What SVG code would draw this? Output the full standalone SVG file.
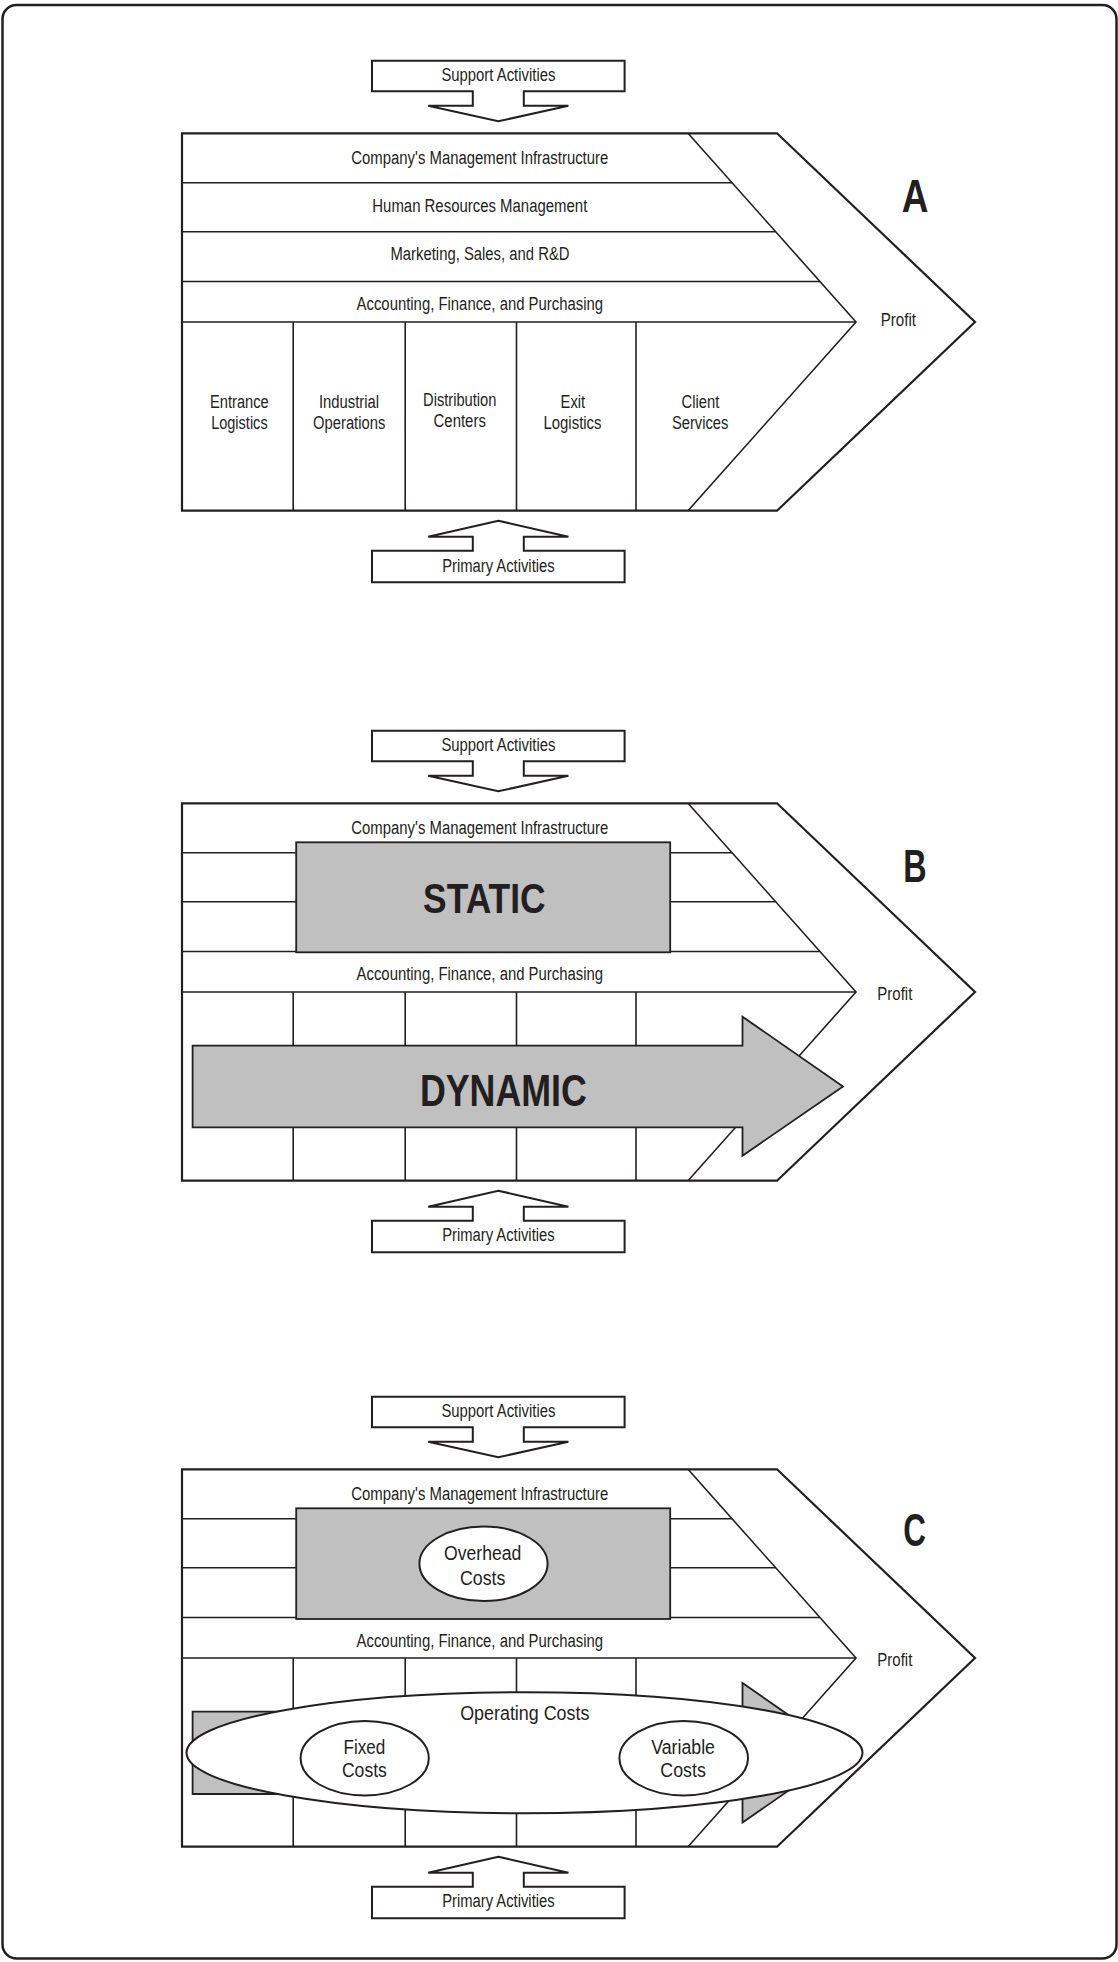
<svg xmlns="http://www.w3.org/2000/svg" width="1118" height="1962" viewBox="0 0 1118 1962">
  <style>
    .frame { fill: none; stroke: #231f20; stroke-width: 2.5; }
    .outline { fill: #ffffff; stroke: #231f20; stroke-width: 2.2; stroke-linejoin: miter; }
    .line { fill: none; stroke: #231f20; stroke-width: 1.6; }
    .block { fill: #ffffff; stroke: #231f20; stroke-width: 2; stroke-linejoin: miter; }
    .shade { fill: #c0c0c0; stroke: #231f20; stroke-width: 1.8; }
    .oval { fill: #ffffff; stroke: #231f20; stroke-width: 2; }
    text { font-family: "Liberation Sans Narrow", "Liberation Sans", Arial, sans-serif; fill: #231f20; text-anchor: middle; }
    .lbl { font-size: 18px; }
    .cost { font-size: 20px; }
    .tag { font-size: 46px; font-weight: bold; }
    .big { font-weight: bold; }
  </style>

  <!-- page border -->
  <rect class="frame" x="2.5" y="5" width="1114" height="1953.5" rx="14" ry="14"/>

  <!-- ===================== Value chain A ===================== -->
  <g id="panel-a">
    <g id="a-chain">
      <path class="outline" d="M182,133.3 H777 L975,322 L777,510.7 H182 Z"/>
      <path class="line" d="M688,133.3 L856,322 L688,510.7"/>
      <path class="line" d="M182,182.7 H732 M182,231.7 H775.6 M182,281.5 H819.9 M182,322 H856"/>
      <path class="line" d="M293.2,322 V510.7 M405.2,322 V510.7 M516.5,322 V510.7 M636,322 V510.7"/>
    </g>
    <g id="a-infrastructure"><text class="lbl" x="479.8" y="164" textLength="257" lengthAdjust="spacingAndGlyphs">Company's Management Infrastructure</text></g>
    <g id="a-hr"><text class="lbl" x="479.8" y="211.5" textLength="215" lengthAdjust="spacingAndGlyphs">Human Resources Management</text></g>
    <g id="a-marketing"><text class="lbl" x="480" y="260" textLength="179" lengthAdjust="spacingAndGlyphs">Marketing, Sales, and R&amp;D</text></g>
    <g id="a-accounting"><text class="lbl" x="479.8" y="310" textLength="246.5" lengthAdjust="spacingAndGlyphs">Accounting, Finance, and Purchasing</text></g>
    <g id="a-entrance">
      <text class="lbl" x="239.4" y="408.3" textLength="58.6" lengthAdjust="spacingAndGlyphs">Entrance</text>
      <text class="lbl" x="239.4" y="429" textLength="56.5" lengthAdjust="spacingAndGlyphs">Logistics</text>
    </g>
    <g id="a-industrial">
      <text class="lbl" x="349" y="408.3" textLength="60.2" lengthAdjust="spacingAndGlyphs">Industrial</text>
      <text class="lbl" x="349.2" y="429" textLength="72.2" lengthAdjust="spacingAndGlyphs">Operations</text>
    </g>
    <g id="a-distribution">
      <text class="lbl" x="459.7" y="406" textLength="73.3" lengthAdjust="spacingAndGlyphs">Distribution</text>
      <text class="lbl" x="459.7" y="427.3" textLength="52.3" lengthAdjust="spacingAndGlyphs">Centers</text>
    </g>
    <g id="a-exit">
      <text class="lbl" x="572.9" y="408.3" textLength="24.6" lengthAdjust="spacingAndGlyphs">Exit</text>
      <text class="lbl" x="572.5" y="429" textLength="58.1" lengthAdjust="spacingAndGlyphs">Logistics</text>
    </g>
    <g id="a-client">
      <text class="lbl" x="700.4" y="408.3" textLength="37.7" lengthAdjust="spacingAndGlyphs">Client</text>
      <text class="lbl" x="700.2" y="429" textLength="56.5" lengthAdjust="spacingAndGlyphs">Services</text>
    </g>
    <g id="a-profit"><text class="lbl" x="898.3" y="325.7" textLength="35.3" lengthAdjust="spacingAndGlyphs">Profit</text></g>
    <g id="a-tag"><text class="tag" x="915" y="211.7" textLength="26.7" lengthAdjust="spacingAndGlyphs">A</text></g>
  </g>

  <!-- ===================== Value chain B ===================== -->
  <g id="panel-b" transform="translate(0,670)">
    <g id="b-chain">
      <path class="outline" d="M182,133.3 H777 L975,322 L777,510.7 H182 Z"/>
      <path class="line" d="M688,133.3 L856,322 L688,510.7"/>
      <path class="line" d="M182,182.7 H732 M182,231.7 H775.6 M182,281.5 H819.9 M182,322 H856"/>
      <path class="line" d="M293.2,322 V510.7 M405.2,322 V510.7 M516.5,322 V510.7 M636,322 V510.7"/>
    </g>
    <g id="b-infrastructure"><text class="lbl" x="479.8" y="163.5" textLength="257" lengthAdjust="spacingAndGlyphs">Company's Management Infrastructure</text></g>
    <g id="b-accounting"><text class="lbl" x="479.8" y="309.5" textLength="246.5" lengthAdjust="spacingAndGlyphs">Accounting, Finance, and Purchasing</text></g>
    <g id="b-static">
      <rect class="shade" x="296.2" y="172.3" width="374" height="110"/>
      <text class="big" x="484.3" y="243.3" font-size="42" textLength="122.5" lengthAdjust="spacingAndGlyphs">STATIC</text>
    </g>
    <g id="b-dynamic">
      <polygon class="shade" points="192.6,375.7 742.5,375.7 742.5,346.7 843,416.5 742.5,485.7 742.5,457.3 192.6,457.3"/>
      <text class="big" x="503.4" y="436" font-size="44" textLength="167" lengthAdjust="spacingAndGlyphs">DYNAMIC</text>
    </g>
    <g id="b-profit"><text class="lbl" x="894.8" y="330" textLength="35" lengthAdjust="spacingAndGlyphs">Profit</text></g>
    <g id="b-tag"><text class="tag" x="915" y="211.7" textLength="23.4" lengthAdjust="spacingAndGlyphs">B</text></g>
  </g>

  <!-- ===================== Value chain C ===================== -->
  <g id="panel-c" transform="translate(0,1336)">
    <g id="c-chain">
      <path class="outline" d="M182,133.3 H777 L975,322 L777,510.7 H182 Z"/>
      <path class="line" d="M688,133.3 L856,322 L688,510.7"/>
      <path class="line" d="M182,182.7 H732 M182,231.7 H775.6 M182,281.5 H819.9 M182,322 H856"/>
      <path class="line" d="M293.2,322 V510.7 M405.2,322 V510.7 M516.5,322 V510.7 M636,322 V510.7"/>
    </g>
    <g id="c-infrastructure"><text class="lbl" x="479.8" y="164" textLength="257" lengthAdjust="spacingAndGlyphs">Company's Management Infrastructure</text></g>
    <g id="c-accounting"><text class="lbl" x="479.8" y="310.5" textLength="246.5" lengthAdjust="spacingAndGlyphs">Accounting, Finance, and Purchasing</text></g>
    <g id="c-overhead">
      <rect class="shade" x="296.2" y="172.3" width="374" height="110.7"/>
      <ellipse class="oval" cx="483.5" cy="227.8" rx="64.1" ry="37.2"/>
      <text class="cost" x="482.7" y="224" textLength="77.4" lengthAdjust="spacingAndGlyphs">Overhead</text>
      <text class="cost" x="482.7" y="249" textLength="45.5" lengthAdjust="spacingAndGlyphs">Costs</text>
    </g>
    <g id="c-flow">
      <polygon class="shade" points="192.6,375.7 742.5,375.7 742.5,347 843,416.8 742.5,486.5 742.5,458 192.6,458"/>
    </g>
    <g id="c-operating">
      <ellipse class="oval" cx="524.5" cy="416.8" rx="338" ry="60.5"/>
      <text class="cost" x="524.8" y="384" textLength="129.3" lengthAdjust="spacingAndGlyphs">Operating Costs</text>
    </g>
    <g id="c-fixed">
      <ellipse class="oval" cx="364.7" cy="422.2" rx="64.1" ry="37.2"/>
      <text class="cost" x="364.4" y="418" textLength="41.8" lengthAdjust="spacingAndGlyphs">Fixed</text>
      <text class="cost" x="364.4" y="440.7" textLength="45" lengthAdjust="spacingAndGlyphs">Costs</text>
    </g>
    <g id="c-variable">
      <ellipse class="oval" cx="683.7" cy="422.2" rx="64.3" ry="37.2"/>
      <text class="cost" x="683.1" y="418" textLength="63.8" lengthAdjust="spacingAndGlyphs">Variable</text>
      <text class="cost" x="683.1" y="440.7" textLength="45.5" lengthAdjust="spacingAndGlyphs">Costs</text>
    </g>
    <g id="c-profit"><text class="lbl" x="894.8" y="329.7" textLength="35" lengthAdjust="spacingAndGlyphs">Profit</text></g>
    <g id="c-tag"><text class="tag" x="914.7" y="209.8" textLength="22.7" lengthAdjust="spacingAndGlyphs">C</text></g>
  </g>

  <!-- block arrows feeding each chain: support from above, primary from below -->
  <g id="connectors">
    <g id="a-support">
      <polygon class="block" points="372,60.7 624.6,60.7 624.6,91.3 523.8,91.3 523.8,105.7 568.4,105.7 498.3,121.3 428.2,105.7 472.8,105.7 472.8,91.3 372,91.3"/>
      <text class="lbl" x="498.4" y="80.7" textLength="114" lengthAdjust="spacingAndGlyphs">Support Activities</text>
    </g>
    <g id="a-primary">
      <polygon class="block" points="498.3,520.7 568.4,536.7 523.8,536.7 523.8,550.7 624.6,550.7 624.6,582.3 372,582.3 372,550.7 472.8,550.7 472.8,536.7 428.2,536.7"/>
      <text class="lbl" x="498.4" y="572.2" textLength="112.5" lengthAdjust="spacingAndGlyphs">Primary Activities</text>
    </g>
    <g id="b-support" transform="translate(0,670)">
      <polygon class="block" points="372,60.7 624.6,60.7 624.6,91.3 523.8,91.3 523.8,105.7 568.4,105.7 498.3,121.3 428.2,105.7 472.8,105.7 472.8,91.3 372,91.3"/>
      <text class="lbl" x="498.4" y="80.7" textLength="114" lengthAdjust="spacingAndGlyphs">Support Activities</text>
    </g>
    <g id="b-primary" transform="translate(0,670)">
      <polygon class="block" points="498.3,520.7 568.4,536.7 523.8,536.7 523.8,550.7 624.6,550.7 624.6,582.3 372,582.3 372,550.7 472.8,550.7 472.8,536.7 428.2,536.7"/>
      <text class="lbl" x="498.4" y="571" textLength="112.5" lengthAdjust="spacingAndGlyphs">Primary Activities</text>
    </g>
    <g id="c-support" transform="translate(0,1336)">
      <polygon class="block" points="372,60.7 624.6,60.7 624.6,91.3 523.8,91.3 523.8,105.7 568.4,105.7 498.3,121.3 428.2,105.7 472.8,105.7 472.8,91.3 372,91.3"/>
      <text class="lbl" x="498.4" y="80.7" textLength="114" lengthAdjust="spacingAndGlyphs">Support Activities</text>
    </g>
    <g id="c-primary" transform="translate(0,1336)">
      <polygon class="block" points="498.3,520.7 568.4,536.7 523.8,536.7 523.8,550.7 624.6,550.7 624.6,582.3 372,582.3 372,550.7 472.8,550.7 472.8,536.7 428.2,536.7"/>
      <text class="lbl" x="498.4" y="571" textLength="112.5" lengthAdjust="spacingAndGlyphs">Primary Activities</text>
    </g>
  </g>
</svg>
